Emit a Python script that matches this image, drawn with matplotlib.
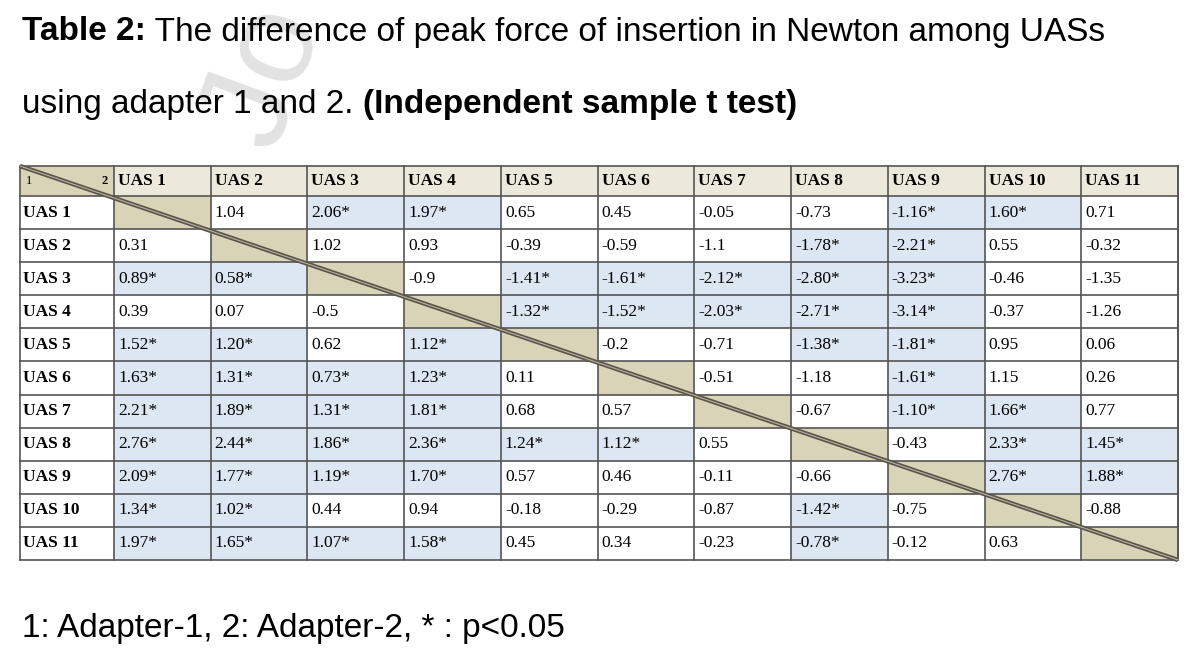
import matplotlib
matplotlib.use("Agg")
import matplotlib.pyplot as plt
from matplotlib.patches import Rectangle

labels = ["UAS 1","UAS 2","UAS 3","UAS 4","UAS 5","UAS 6","UAS 7","UAS 8","UAS 9","UAS 10","UAS 11"]
upper = [
 ["1.04","2.06*","1.97*","0.65","0.45","-0.05","-0.73","-1.16*","1.60*","0.71"],
 ["1.02","0.93","-0.39","-0.59","-1.1","-1.78*","-2.21*","0.55","-0.32"],
 ["-0.9","-1.41*","-1.61*","-2.12*","-2.80*","-3.23*","-0.46","-1.35"],
 ["-1.32*","-1.52*","-2.03*","-2.71*","-3.14*","-0.37","-1.26"],
 ["-0.2","-0.71","-1.38*","-1.81*","0.95","0.06"],
 ["-0.51","-1.18","-1.61*","1.15","0.26"],
 ["-0.67","-1.10*","1.66*","0.77"],
 ["-0.43","2.33*","1.45*"],
 ["2.76*","1.88*"],
 ["-0.88"],
 [],
]
lower = [
 [],
 ["0.31"],
 ["0.89*","0.58*"],
 ["0.39","0.07","-0.5"],
 ["1.52*","1.20*","0.62","1.12*"],
 ["1.63*","1.31*","0.73*","1.23*","0.11"],
 ["2.21*","1.89*","1.31*","1.81*","0.68","0.57"],
 ["2.76*","2.44*","1.86*","2.36*","1.24*","1.12*","0.55"],
 ["2.09*","1.77*","1.19*","1.70*","0.57","0.46","-0.11","-0.66"],
 ["1.34*","1.02*","0.44","0.94","-0.18","-0.29","-0.87","-1.42*","-0.75"],
 ["1.97*","1.65*","1.07*","1.58*","0.45","0.34","-0.23","-0.78*","-0.12","0.63"],
]

fig = plt.figure(figsize=(12, 6.53), dpi=100)
ax = fig.add_axes([0, 0, 1, 1])
ax.set_xlim(0, 1200); ax.set_ylim(653, 0); ax.axis("off")

sans = "Liberation Sans"; serif = "Liberation Serif"
fs = 24
ax.text(265, 75, "Jo", fontsize=95, color="#e2e2e2", rotation=70, family=sans,
        va="center", ha="center", zorder=0)

def runs(y, parts):
    x = 22
    renderer = fig.canvas.get_renderer()
    for s, w in parts:
        t = ax.text(x, y, s, fontsize=fs, fontweight=w, family=sans, va="center")
        bb = t.get_window_extent(renderer)
        x += bb.width
runs(32, [("Table 2:", "bold"), (" The difference of peak force of insertion in Newton among UASs", "normal")])
runs(104, [("using adapter 1 and 2. ", "normal"), ("(Independent sample t test)", "bold")])
ax.text(22, 628, "1: Adapter-1, 2: Adapter-2, * : p<0.05", fontsize=fs, family=sans, va="center")

x0, x1 = 20, 1178
first_w = 94
n = len(labels)
cw = (x1 - x0 - first_w) / n
y0 = 166; hh = 30
rh = (560 - y0 - hh) / n
xs = [x0] + [x0 + first_w + i * cw for i in range(n + 1)]
ys = [y0] + [y0 + hh + i * rh for i in range(n + 1)]

blue = "#dde6f3"; tan = "#d9d3b8"; head = "#ece9dc"
ax.add_patch(Rectangle((x0, y0), x1 - x0, hh, fc=head, ec="none"))
ax.add_patch(Rectangle((x0, y0), first_w, hh, fc=tan, ec="none"))
ax.text(x0 + 6, y0 + hh / 2, "1", fontsize=9, family=serif, va="center")
ax.text(x0 + first_w - 12, y0 + hh / 2, "2", fontsize=9, family=serif, va="center", fontweight="bold")
for j, lab in enumerate(labels):
    ax.text(xs[j + 1] + 4, y0 + hh / 2, lab, fontsize=12.5, family=serif,
            fontweight="bold", va="center")

for i in range(n):
    yc = ys[i + 1] + rh / 2
    ax.text(x0 + 3, yc, labels[i], fontsize=12.5, family=serif, fontweight="bold", va="center")
    row = lower[i] + [None] + upper[i]
    for j, v in enumerate(row):
        cx = xs[j + 1]
        if v is None:
            ax.add_patch(Rectangle((cx, ys[i + 1]), cw, rh, fc=tan, ec="none"))
            continue
        if v.endswith("*"):
            ax.add_patch(Rectangle((cx, ys[i + 1]), cw, rh, fc=blue, ec="none"))
        ax.text(cx + 4, yc, v, fontsize=12.5, family=serif, va="center", ha="left")

for x in xs + [x1]:
    ax.plot([x, x], [y0, ys[-1]], color="#555555", lw=1.2)
for y in ys:
    ax.plot([x0, x1], [y, y], color="#555555", lw=1.2)
ax.plot([x0, x1], [y0, ys[-1]], color="#5a5548", lw=3.2, solid_capstyle="butt")
ax.plot([x0, x1], [y0, ys[-1]], color="#b8b3a0", lw=0.8)

fig.savefig("out.png", dpi=100, facecolor="white")
